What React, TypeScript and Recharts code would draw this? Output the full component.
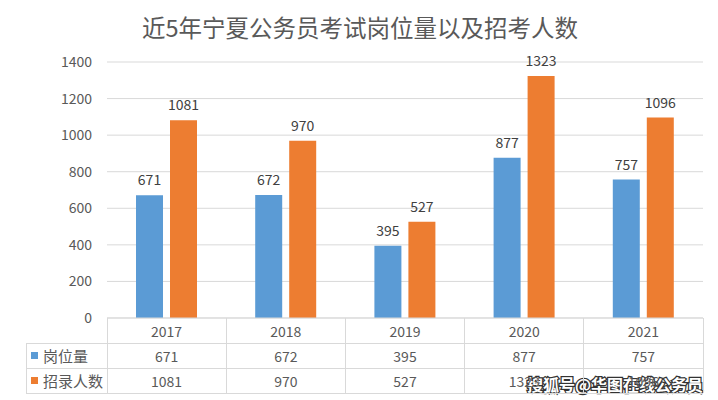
import React from 'react';
import { BarChart, Bar, XAxis, YAxis, CartesianGrid, LabelList, Customized } from 'recharts';

const years = ['2017', '2018', '2019', '2020', '2021'];
const positions = [671, 672, 395, 877, 757];
const applicants = [1081, 970, 527, 1323, 1096];
const yTicks = [0, 200, 400, 600, 800, 1000, 1200, 1400];
const seriesNames = ['岗位量', '招录人数'];
const seriesColors = ['#5B9BD5', '#ED7D31'];
const titleText = '近5年宁夏公务员考试岗位量以及招考人数';
const sourceText = '搜狐号@华图在线公务员';

const data = years.map((y, i) => ({ year: y, positions: positions[i], applicants: applicants[i] }));
const rows = [positions, applicants];

const W = 718;
const H = 400;
const MARGIN = { top: 62, right: 15, left: 47, bottom: 7 };
const YAXIS_W = 60;
const XAXIS_H = 75;
const LEG_LEFT = 26;
const ROW_H = 25;
const GRID = '#d9d9d9';
const TEXT = '#595959';
const FONT = '"Noto Sans CJK SC", "Noto Sans", sans-serif';

const TableTick = (props: any) => {
  const { x, y, index } = props;
  const bw = (W - MARGIN.left - YAXIS_W - MARGIN.right) / years.length;
  const left = x - bw / 2;
  const right = x + bw / 2;
  const top = y;
  const bottom = top + ROW_H * 3;
  const els: any[] = [];
  els.push(<line key="vl" x1={left} x2={left} y1={top} y2={bottom} stroke={GRID} shapeRendering="crispEdges" />);
  els.push(<line key="vr" x1={right} x2={right} y1={top} y2={bottom} stroke={GRID} shapeRendering="crispEdges" />);
  for (let k = 1; k <= 3; k++) {
    els.push(<line key={'h' + k} x1={left} x2={right} y1={top + ROW_H * k} y2={top + ROW_H * k} stroke={GRID} shapeRendering="crispEdges" />);
  }
  els.push(
    <text key="yr" x={x} y={top + ROW_H * 0.5} textAnchor="middle" dominantBaseline="central" fontSize={14} fill={TEXT} fontFamily={FONT}>
      {years[index]}
    </text>
  );
  rows.forEach((r, ri) => {
    els.push(
      <text key={'v' + ri} x={x} y={top + ROW_H * (ri + 1.5)} textAnchor="middle" dominantBaseline="central" fontSize={14} fill={TEXT} fontFamily={FONT}>
        {r[index]}
      </text>
    );
  });
  if (index === 0) {
    els.push(<line key="lv" x1={LEG_LEFT} x2={LEG_LEFT} y1={top + ROW_H} y2={bottom} stroke={GRID} shapeRendering="crispEdges" />);
    for (let k = 1; k <= 3; k++) {
      els.push(<line key={'lh' + k} x1={LEG_LEFT} x2={left} y1={top + ROW_H * k} y2={top + ROW_H * k} stroke={GRID} shapeRendering="crispEdges" />);
    }
    seriesNames.forEach((n, ri) => {
      const cy = top + ROW_H * (ri + 1.5);
      els.push(<rect key={'ls' + ri} x={LEG_LEFT + 5} y={cy - 3.5} width={7} height={7} fill={seriesColors[ri]} />);
      els.push(
        <text key={'lt' + ri} x={LEG_LEFT + 17} y={cy} dominantBaseline="central" fontSize={15} fill={TEXT} fontFamily={FONT}>
          {n}
        </text>
      );
    });
  }
  return <g>{els}</g>;
};

const Title = () => (
  <text x={360} y={27} textAnchor="middle" dominantBaseline="central" fontSize={23.5} fill={TEXT} fontFamily={FONT}>
    {titleText}
  </text>
);

const Source = () => (
  <text x={703} y={384} textAnchor="end" dominantBaseline="central" fontSize={16} fontWeight="bold" fill="#ffffff" stroke="#333333" strokeWidth={2.5} paintOrder="stroke" fontFamily={FONT}>
    {sourceText}
  </text>
);

export default function App() {
  return (
    <div style={{ position: 'absolute', left: 0, top: 0, width: W, height: H, background: '#fff' }}>
      <BarChart width={W} height={H} data={data} margin={MARGIN} barGap={7}>
        <CartesianGrid vertical={false} stroke={GRID} />
        <XAxis
          dataKey="year"
          interval={0}
          height={XAXIS_H}
          axisLine={{ stroke: GRID }}
          tickLine={false}
          tickSize={0}
          tickMargin={0}
          tick={<TableTick />}
        />
        <YAxis
          width={YAXIS_W}
          domain={[0, 1400]}
          ticks={yTicks}
          axisLine={false}
          tickLine={false}
          tickSize={0}
          tickMargin={15}
          tick={{ fontSize: 14, fill: TEXT, fontFamily: FONT }}
        />
        <Bar dataKey="positions" name={seriesNames[0]} fill={seriesColors[0]} barSize={27} isAnimationActive={false}>
          <LabelList dataKey="positions" position="top" offset={10} fontSize={14} fill="#404040" fontFamily={FONT} />
        </Bar>
        <Bar dataKey="applicants" name={seriesNames[1]} fill={seriesColors[1]} barSize={27} isAnimationActive={false}>
          <LabelList dataKey="applicants" position="top" offset={10} fontSize={14} fill="#404040" fontFamily={FONT} />
        </Bar>
        <Customized component={Title} />
        <Customized component={Source} />
      </BarChart>
    </div>
  );
}
